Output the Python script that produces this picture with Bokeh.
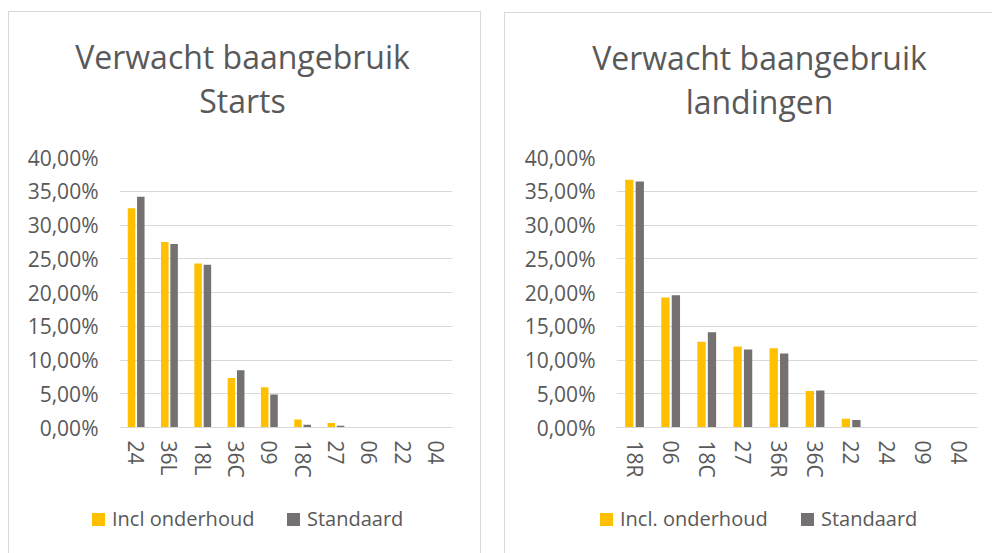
from bokeh.plotting import figure
from bokeh.models import Range1d, FixedTicker, ColumnDataSource, Div
from bokeh.transform import dodge
from bokeh.layouts import row, column
from bokeh.embed import file_html
from bokeh.resources import INLINE

# ---- data (percent) ----
starts_runways = ["24", "36L", "18L", "36C", "09", "18C", "27", "06", "22", "04"]
starts_incl = [32.5, 27.5, 24.3, 7.35, 5.95, 1.2, 0.65, 0.0, 0.0, 0.0]
starts_std = [34.2, 27.2, 24.1, 8.5, 4.9, 0.4, 0.25, 0.0, 0.0, 0.0]

land_runways = ["18R", "06", "18C", "27", "36R", "36C", "22", "24", "09", "04"]
land_incl = [36.7, 19.25, 12.7, 12.0, 11.75, 5.4, 1.3, 0.03, 0.03, 0.0]
land_std = [36.45, 19.6, 14.1, 11.55, 10.95, 5.5, 1.1, 0.01, 0.0, 0.0]

y_ticks = [0, 5, 10, 15, 20, 25, 30, 35, 40]
y_tick_labels = {t: ("%.2f%%" % t).replace(".", ",") for t in y_ticks}

YELLOW = "#FFC000"
GREY = "#767171"
TEXT = "#595959"
GRID = "#d9d9d9"
FONT = "Open Sans"


def title_div(line1, line2, width, height, pad_top, dx):
    html = (f'<div style="width:{width}px;height:{height}px;box-sizing:border-box;'
            f'padding-top:{pad_top}px;text-align:center;font-family:\'{FONT}\';'
            f'font-size:32px;line-height:44px;color:{TEXT};position:relative;left:{dx}px;'
            f'white-space:nowrap;">{line1}<br>{line2}</div>')
    return Div(text=html, width=width, height=height, margin=0)


def legend_div(inc_label, width, height, xs):
    gx1, tx1, gx2, tx2 = xs
    sq = 'position:absolute;top:23px;width:13px;height:13px;'
    tx = (f'position:absolute;top:19px;line-height:20px;font-family:\'{FONT}\';'
          f'font-size:20px;color:{TEXT};white-space:nowrap;')
    html = (f'<div style="position:relative;width:{width}px;height:{height}px;">'
            f'<span style="{sq}left:{gx1}px;background:{YELLOW};"></span>'
            f'<span style="{tx}left:{tx1}px;">{inc_label}</span>'
            f'<span style="{sq}left:{gx2}px;background:{GREY};"></span>'
            f'<span style="{tx}left:{tx2}px;">Standaard</span></div>')
    return Div(text=html, width=width, height=height, margin=0)


def make_chart(title1, title2, cats, inc, std, inc_label, width,
               title_h, main_h, legend_h, borders, bar_w, bar_off, title_dx, legend_xs):
    src = ColumnDataSource(dict(cat=cats, inc=inc, std=std))
    bl, br, bt, bb = borders
    p = figure(x_range=cats, y_range=Range1d(0, 40), width=width, height=main_h,
               output_backend="svg", toolbar_location=None,
               min_border_left=bl, min_border_right=br,
               min_border_top=bt, min_border_bottom=bb)
    p.margin = 0
    p.outline_line_color = None
    p.background_fill_color = "white"
    p.border_fill_color = "white"

    p.vbar(x=dodge("cat", -bar_off, range=p.x_range), top="inc", width=bar_w,
           source=src, fill_color=YELLOW, line_color=None)
    p.vbar(x=dodge("cat", bar_off, range=p.x_range), top="std", width=bar_w,
           source=src, fill_color=GREY, line_color=None)

    p.xgrid.grid_line_color = None
    p.ygrid.ticker = FixedTicker(ticks=y_ticks)
    p.ygrid.grid_line_color = GRID
    p.ygrid.grid_line_width = 1

    p.yaxis.ticker = FixedTicker(ticks=y_ticks)
    p.yaxis.major_label_overrides = y_tick_labels
    p.yaxis.axis_line_color = None
    p.yaxis.major_tick_line_color = None
    p.yaxis.minor_tick_line_color = None
    p.yaxis.major_tick_out = 0
    p.yaxis.major_tick_in = 0
    p.yaxis.major_label_standoff = 21
    p.yaxis.major_label_text_font = FONT
    p.yaxis.major_label_text_font_size = "21px"
    p.yaxis.major_label_text_color = TEXT

    p.xaxis.axis_line_color = GRID
    p.xaxis.axis_line_width = 1
    p.xaxis.major_tick_line_color = None
    p.xaxis.minor_tick_line_color = None
    p.xaxis.major_tick_out = 0
    p.xaxis.major_tick_in = 0
    p.xaxis.major_label_orientation = "vertical"
    p.xaxis.major_label_standoff = 13
    p.xaxis.major_label_text_font = FONT
    p.xaxis.major_label_text_font_size = "21px"
    p.xaxis.major_label_text_color = TEXT

    t = title_div(title1, title2, width, title_h, 23, title_dx)
    lg = legend_div(inc_label, width, legend_h, legend_xs)

    col = column(t, p, lg, spacing=0)
    col.styles = {"outline": "1px solid #d9d9d9", "outline-offset": "0px",
                  "background-color": "white"}
    return col


c1 = make_chart("Verwacht baangebruik", "Starts", starts_runways, starts_incl, starts_std,
                "Incl onderhoud", 471, 123, 355, 63, (110, 28, 22, 63), 0.225, 0.14,
                -2, (83, 103, 278, 298))
c2 = make_chart("Verwacht baangebruik", "landingen", land_runways, land_incl, land_std,
                "Incl. onderhoud", 487, 122, 355, 63, (111, 15, 22, 63), 0.23, 0.145,
                11, (95, 115, 296, 316))
c1.margin = (12, 0, 0, 9)
c2.margin = (13, 0, 0, 0)

layout = row(c1, c2, spacing=25)

open("out.html", "w").write(file_html(layout, INLINE))
